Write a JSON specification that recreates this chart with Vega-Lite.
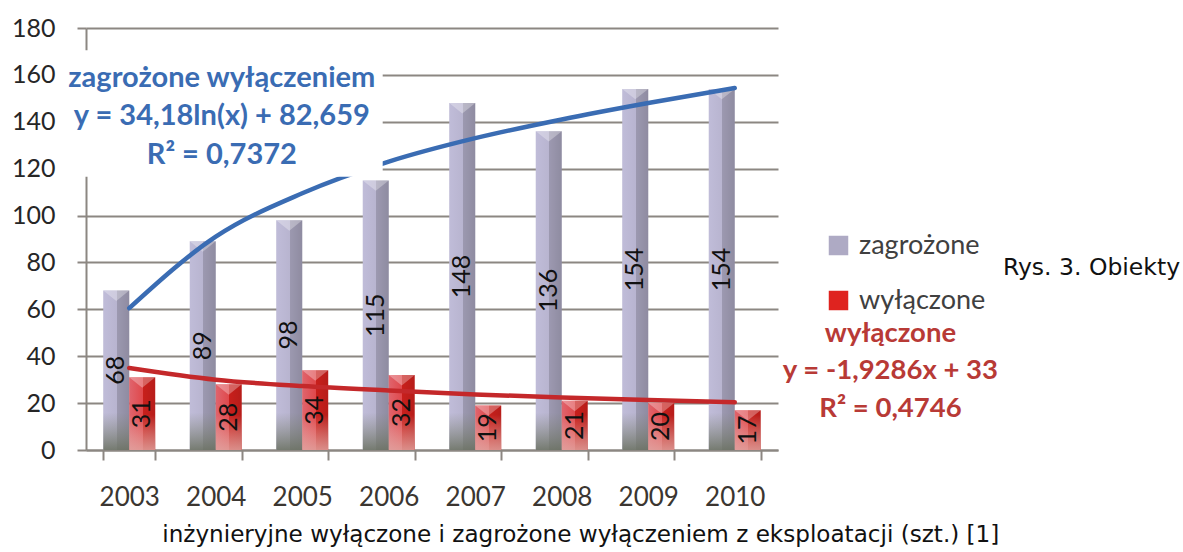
{
  "$schema": "https://vega.github.io/schema/vega-lite/v6.json",
  "width": 692,
  "height": 422,
  "autosize": {"type": "none"},
  "padding": {"left": 86, "top": 28, "right": 405, "bottom": 102},
  "background": "white",
  "config": {"view": {"stroke": null}, "font": "Lato"},
  "datasets": {
    "obiekty": [
      {"rok": "2003", "seria": "zagrożone", "liczba": 68},
      {"rok": "2004", "seria": "zagrożone", "liczba": 89},
      {"rok": "2005", "seria": "zagrożone", "liczba": 98},
      {"rok": "2006", "seria": "zagrożone", "liczba": 115},
      {"rok": "2007", "seria": "zagrożone", "liczba": 148},
      {"rok": "2008", "seria": "zagrożone", "liczba": 136},
      {"rok": "2009", "seria": "zagrożone", "liczba": 154},
      {"rok": "2010", "seria": "zagrożone", "liczba": 154},
      {"rok": "2003", "seria": "wyłączone", "liczba": 31},
      {"rok": "2004", "seria": "wyłączone", "liczba": 28},
      {"rok": "2005", "seria": "wyłączone", "liczba": 34},
      {"rok": "2006", "seria": "wyłączone", "liczba": 32},
      {"rok": "2007", "seria": "wyłączone", "liczba": 19},
      {"rok": "2008", "seria": "wyłączone", "liczba": 21},
      {"rok": "2009", "seria": "wyłączone", "liczba": 20},
      {"rok": "2010", "seria": "wyłączone", "liczba": 17}
    ],
    "trend": [
      {"rok": "2003", "zagrozone": 60.5, "wylaczone": 35.0},
      {"rok": "2004", "zagrozone": 91.0, "wylaczone": 30.0},
      {"rok": "2005", "zagrozone": 109.5, "wylaczone": 27.3},
      {"rok": "2006", "zagrozone": 123.0, "wylaczone": 25.4},
      {"rok": "2007", "zagrozone": 133.0, "wylaczone": 23.7},
      {"rok": "2008", "zagrozone": 141.0, "wylaczone": 22.4},
      {"rok": "2009", "zagrozone": 148.0, "wylaczone": 21.3},
      {"rok": "2010", "zagrozone": 154.4, "wylaczone": 20.4}
    ]
  },
  "resolve": {"scale": {"x": "independent", "y": "independent"}},
  "layer": [
    {
      "data": {"name": "obiekty"},
      "encoding": {
        "x": {
          "field": "rok", "type": "ordinal",
          "scale": {"type": "band", "paddingInner": 0.4, "paddingOuter": 0.2},
          "axis": {
            "title": null, "labelAngle": 0, "tickBand": "extent", "tickSize": 10,
            "tickColor": "#8c8782", "tickWidth": 2, "domainColor": "#8c8782", "domainWidth": 2,
            "labelFont": "Lato", "labelFontSize": 26, "labelColor": "#3b3631", "labelPadding": 24,
            "grid": false, "zindex": 0
          }
        },
        "xOffset": {"field": "seria", "type": "nominal", "sort": ["zagrożone", "wyłączone"], "scale": {"paddingInner": 0, "paddingOuter": 0}},
        "y": {
          "field": "liczba", "type": "quantitative",
          "scale": {"domain": [0, 180], "nice": false},
          "axis": {
            "title": null, "values": [0, 20, 40, 60, 80, 100, 120, 140, 160, 180],
            "tickSize": 9, "tickColor": "#8c8782", "tickWidth": 2,
            "domainColor": "#8c8782", "domainWidth": 2,
            "gridColor": "#8c8782", "gridWidth": 2,
            "labelFont": "Lato", "labelFontSize": 25, "labelColor": "#262626", "labelPadding": 22,
            "zindex": 0
          }
        }
      },
      "layer": [
        {
          "mark": {"type": "bar"},
          "encoding": {
            "color": {
              "field": "seria", "type": "nominal",
              "scale": {"domain": ["zagrożone", "wyłączone"], "range": ["#aeaac4", "#df231f"]},
              "legend": {
                "orient": "none", "legendX": 739, "legendY": 204, "title": null,
                "symbolType": "square", "symbolSize": 380, "symbolStrokeWidth": 0,
                "labelFont": "Lato", "labelFontSize": 27, "labelColor": "#404040",
                "labelOffset": 7, "rowPadding": 27, "padding": 0
              }
            }
          }
        },
        {
          "mark": {
            "type": "bar",
            "fill": {
              "gradient": "linear", "x1": 0, "y1": 0, "x2": 1, "y2": 0,
              "stops": [
                {"offset": 0, "color": "rgba(225,222,255,0.35)"},
                {"offset": 0.52, "color": "rgba(225,222,255,0.2)"},
                {"offset": 0.52, "color": "rgba(0,0,0,0.1)"},
                {"offset": 1, "color": "rgba(0,0,0,0.18)"}
              ]
            }
          }
        },
        {
          "transform": [{"filter": "datum.seria === 'zagrożone'"}],
          "mark": {
            "type": "bar",
            "fill": {
              "gradient": "linear", "x1": 0, "y1": 0, "x2": 0, "y2": 1,
              "stops": [
                {"offset": 0, "color": "rgba(125,132,112,0)"},
                {"offset": 1, "color": "rgba(105,112,95,0.85)"}
              ]
            }
          },
          "encoding": {"y": {"datum": 16}, "y2": {"datum": 0}}
        },
        {
          "transform": [{"filter": "datum.seria === 'wyłączone'"}],
          "mark": {
            "type": "bar",
            "fill": {
              "gradient": "linear", "x1": 0, "y1": 0, "x2": 0, "y2": 1,
              "stops": [
                {"offset": 0, "color": "rgba(235,190,185,0)"},
                {"offset": 1, "color": "rgba(225,170,165,0.8)"}
              ]
            }
          },
          "encoding": {"y": {"datum": 15}, "y2": {"datum": 0}}
        },
        {
          "mark": {"type": "point", "shape": "M-1,0L1,0L0,0.8Z", "filled": true, "fill": "white", "opacity": 0.3, "size": 676, "strokeWidth": 0}
        }
      ]
    },
    {
      "data": {"name": "obiekty"},
      "mark": {"type": "text", "angle": 270, "font": "Lato", "fontSize": 25, "color": "#111111", "align": "center", "baseline": "middle"},
      "encoding": {
        "x": {"field": "rok", "type": "ordinal", "scale": {"type": "band", "paddingInner": 0.4, "paddingOuter": 0.2}, "axis": null},
        "xOffset": {"field": "seria", "type": "nominal", "sort": ["zagrożone", "wyłączone"], "scale": {"paddingInner": 0, "paddingOuter": 0}},
        "y": {"field": "liczba", "type": "quantitative", "scale": {"domain": [0, 360], "nice": false}, "axis": null},
        "text": {"field": "liczba", "type": "quantitative"}
      }
    },
    {
      "data": {"name": "trend"},
      "encoding": {
        "x": {"field": "rok", "type": "ordinal", "scale": {"type": "band", "paddingInner": 0.4, "paddingOuter": 0.2}, "axis": null}
      },
      "layer": [
        {
          "mark": {"type": "line", "interpolate": "monotone", "color": "#3a6cb3", "strokeWidth": 4.5, "strokeCap": "round"},
          "encoding": {"y": {"field": "zagrozone", "type": "quantitative", "scale": {"domain": [0, 180], "nice": false}, "axis": null}}
        },
        {
          "mark": {"type": "line", "interpolate": "monotone", "color": "#c4282a", "strokeWidth": 4.5, "strokeCap": "round"},
          "encoding": {"y": {"field": "wylaczone", "type": "quantitative", "scale": {"domain": [0, 180], "nice": false}, "axis": null}}
        }
      ]
    },
    {
      "data": {"values": [{}]},
      "layer": [
        {
          "mark": {"type": "rect", "fill": "white"},
          "encoding": {
            "x": {"datum": -0.3, "type": "quantitative", "scale": {"domain": [0, 8], "nice": false, "zero": false}, "axis": null},
            "x2": {"datum": 3.43},
            "y": {"datum": 170.5, "type": "quantitative", "scale": {"domain": [0, 180], "nice": false}, "axis": null},
            "y2": {"datum": 116.5}
          }
        },
        {
          "mark": {"type": "text", "font": "Lato", "fontWeight": "bold", "fontSize": 29, "color": "#3a6cb3", "align": "center", "baseline": "middle", "lineHeight": 38.5},
          "encoding": {
            "x": {"datum": 1.57, "type": "quantitative"},
            "y": {"datum": 158.7, "type": "quantitative"},
            "text": {"value": ["zagrożone wyłączeniem", "y = 34,18ln(x) + 82,659", "R² = 0,7372"]}
          }
        },
        {
          "mark": {"type": "text", "font": "Lato", "fontWeight": "bold", "fontSize": 27.5, "color": "#b83a36", "align": "center", "baseline": "middle", "lineHeight": 37.5},
          "encoding": {
            "x": {"datum": 9.3, "type": "quantitative"},
            "y": {"datum": 49.5, "type": "quantitative"},
            "text": {"value": ["wyłączone", "y = -1,9286x + 33", "R² = 0,4746"]}
          }
        },
        {
          "mark": {"type": "text", "font": "DejaVu Sans", "fontSize": 23.5, "color": "#111111", "align": "left", "baseline": "middle"},
          "encoding": {
            "x": {"datum": 10.6, "type": "quantitative"},
            "y": {"datum": 77.6, "type": "quantitative"},
            "text": {"value": "Rys. 3. Obiekty"}
          }
        },
        {
          "mark": {"type": "text", "font": "DejaVu Sans", "fontSize": 23.1, "color": "#111111", "align": "center", "baseline": "middle"},
          "encoding": {
            "x": {"datum": 5.72, "type": "quantitative"},
            "y": {"datum": -36.3, "type": "quantitative"},
            "text": {"value": "inżynieryjne wyłączone i zagrożone wyłączeniem z eksploatacji (szt.) [1]"}
          }
        }
      ]
    }
  ]
}
